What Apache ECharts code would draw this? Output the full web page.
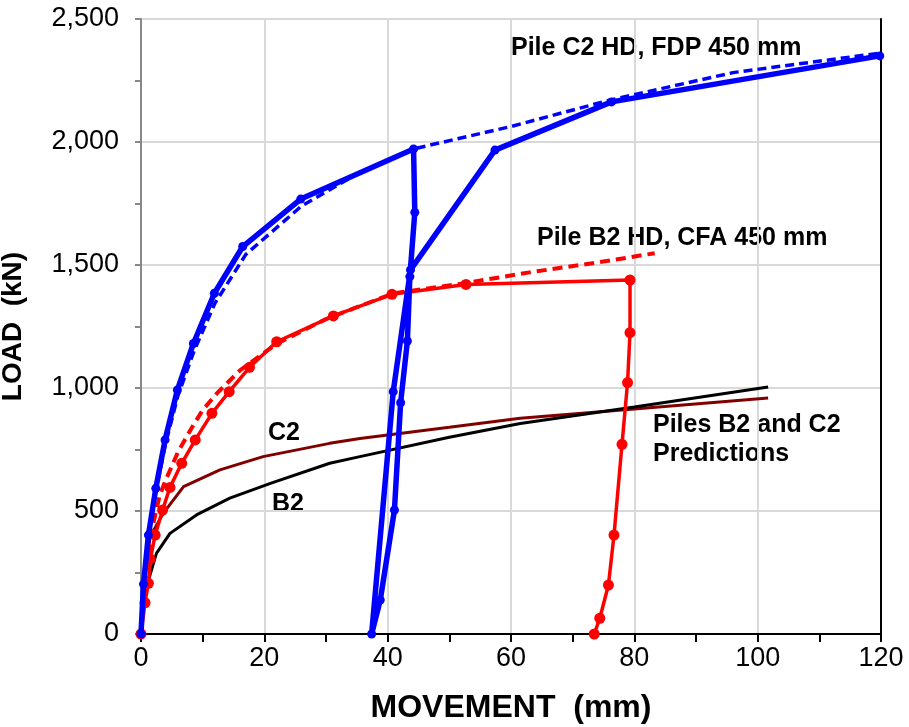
<!DOCTYPE html>
<html>
<head>
<meta charset="utf-8">
<script src="https://cdn.jsdelivr.net/npm/echarts@6/dist/echarts.min.js"></script>
<style>
html,body{margin:0;padding:0;background:#fff;}
#chart{width:909px;height:727px;}
</style>
</head>
<body>
<div id="chart"></div>
<script>
// Pile C2 HD test (loading, unloading, reloading)
const c2TestX = [0, 0.4, 1.2, 2.4, 3.9, 5.9, 8.5, 11.9, 16.5, 25.9, 44.2, 44.4, 43.6, 43.2, 42.1, 41.1, 38.8, 37.4, 40.9, 43.7, 57.4, 76.3, 119.8];
const c2TestY = [0, 203, 402, 592, 789, 992, 1181, 1385, 1575, 1768, 1972, 1714, 1453, 1191, 940, 504, 138, 0, 985, 1480, 1967, 2163, 2350];
// Pile C2 HD dashed curve
const c2FitX = [0, 0.5, 1.2, 2.4, 4, 6, 8.6, 12, 17, 26, 35, 44.2, 60, 76, 96, 120];
const c2FitY = [0, 190, 390, 580, 775, 970, 1150, 1345, 1543, 1739, 1870, 1972, 2063, 2170, 2282, 2362];
// Pile B2 HD test
const b2TestX = [0, 0.65, 1.2, 1.5, 2.3, 3.5, 4.7, 6.6, 8.8, 11.5, 14.3, 17.6, 22.0, 31.2, 40.7, 52.7, 79.3, 79.3, 78.9, 78.0, 76.7, 75.8, 74.4, 73.5];
const b2TestY = [0, 127, 206, 304, 402, 504, 596, 694, 789, 897, 985, 1084, 1188, 1293, 1381, 1421, 1439, 1225, 1022, 771, 402, 199, 64, 0];
// Pile B2 HD dashed curve
const b2FitX = [0, 0.5, 1.2, 2.0, 3.0, 3.9, 6.0, 8.5, 10.0, 12.3, 16.1, 22.0, 30.0, 40.9, 52.7, 63.0, 74.0, 83.3];
const b2FitY = [0, 150, 300, 450, 560, 620, 740, 850, 910, 978, 1073, 1180, 1280, 1385, 1427, 1470, 1510, 1548];
// Predictions
const predB2X = [0, 0.3, 0.9, 2.5, 4.7, 9.0, 14.4, 21.1, 30.6, 35.5, 50, 61.5, 80, 101.7];
const predB2Y = [0, 100, 192, 328, 409, 484, 552, 613, 694, 721, 800, 856, 923, 1004];
const predC2X = [0, 0.5, 1.5, 3.6, 6.9, 12.8, 19.8, 30.6, 35.5, 50, 61.5, 80, 101.7];
const predC2Y = [0, 220, 396, 490, 599, 667, 721, 775, 795, 840, 877, 915, 959];

const xTicks = {min: 0, max: 120, interval: 20};
const yTicks = {min: 0, max: 2500, interval: 500};

function pairs(xs, ys) { return xs.map((x, i) => [x, ys[i]]); }

const chart = echarts.init(document.getElementById('chart'));
const FONT = '"Liberation Sans", Arial, sans-serif';
chart.setOption({
  animation: false,
  backgroundColor: '#fff',
  grid: {left: 141, right: 28, top: 19, bottom: 93, containLabel: false, outerBoundsMode: 'none'},
  xAxis: {
    type: 'value', min: xTicks.min, max: xTicks.max, interval: xTicks.interval,
    name: 'MOVEMENT  (mm)', nameLocation: 'middle', nameGap: 58,
    nameTextStyle: {fontFamily: FONT, fontWeight: 'bold', fontSize: 32, color: '#000'},
    axisLine: {show: true, onZero: false, lineStyle: {color: '#000', width: 2}},
    axisTick: {show: true, inside: false, length: 8, lineStyle: {color: '#000', width: 2}},
    minorTick: {show: true, splitNumber: 2, length: 8, lineStyle: {color: '#000', width: 2}},
    axisLabel: {fontFamily: FONT, fontSize: 27, color: '#000', margin: 11},
    splitLine: {show: true, lineStyle: {color: '#d9d9d9', width: 2}}
  },
  yAxis: [{
    type: 'value', min: yTicks.min, max: yTicks.max, interval: yTicks.interval,
    name: 'LOAD  (kN)', nameLocation: 'middle', nameGap: 114, nameRotate: 90,
    nameTextStyle: {fontFamily: FONT, fontWeight: 'bold', fontSize: 28, color: '#000'},
    axisLine: {show: true, lineStyle: {color: '#888', width: 2}},
    axisTick: {show: true, length: 6, lineStyle: {color: '#888', width: 2}},
    minorTick: {show: true, splitNumber: 2, length: 6, lineStyle: {color: '#888', width: 2}},
    axisLabel: {fontFamily: FONT, fontSize: 27, color: '#000', margin: 22,
      formatter: v => v.toLocaleString('en-US')},
    splitLine: {show: true, lineStyle: {color: '#d9d9d9', width: 2}}
  }, {
    type: 'value', min: yTicks.min, max: yTicks.max, interval: yTicks.interval, position: 'right',
    axisLine: {show: true, lineStyle: {color: '#000', width: 2}},
    axisTick: {show: false}, axisLabel: {show: false}, splitLine: {show: false}
  }],
  series: [
    {type: 'line', name: 'C2 prediction', data: pairs(predC2X, predC2Y), showSymbol: false, symbol: 'none',
     lineStyle: {color: '#800000', width: 3}, z: 2},
    {type: 'line', name: 'B2 prediction', data: pairs(predB2X, predB2Y), showSymbol: false, symbol: 'none',
     lineStyle: {color: '#000', width: 3}, z: 3},
    {type: 'line', name: 'B2 fit', data: pairs(b2FitX, b2FitY), symbol: 'none',
     lineStyle: {color: '#ff0000', width: 4, type: [10, 6]}, z: 4},
    {type: 'line', name: 'B2 test', data: pairs(b2TestX, b2TestY), symbol: 'circle', symbolSize: 11,
     itemStyle: {color: '#ff0000'}, lineStyle: {color: '#ff0000', width: 3.5}, z: 5},
    {type: 'line', name: 'C2 fit', data: pairs(c2FitX, c2FitY), symbol: 'none',
     lineStyle: {color: '#0000ff', width: 3.5, type: [9, 5]}, z: 6},
    {type: 'line', name: 'C2 test', data: pairs(c2TestX, c2TestY), symbol: 'circle', symbolSize: 9,
     itemStyle: {color: '#0000ff'}, lineStyle: {color: '#0000ff', width: 5.5}, z: 7}
  ],
  graphic: [
    {type: 'text', left: 511, top: 36, style: {text: 'Pile C2 HD, FDP 450 mm', font: 'bold 25px ' + FONT, fill: '#000'}},
    {type: 'text', left: 537, top: 226, style: {text: 'Pile B2 HD, CFA 450 mm', font: 'bold 25px ' + FONT, fill: '#000'}},
    {type: 'text', left: 268, top: 421, style: {text: 'C2', font: 'bold 25px ' + FONT, fill: '#000'}},
    {type: 'text', left: 272, top: 492, style: {text: 'B2', font: 'bold 25px ' + FONT, fill: '#000'}},
    {type: 'text', left: 653, top: 411, style: {text: 'Piles B2 and C2\nPredictions', font: 'bold 25px ' + FONT, fill: '#000', lineHeight: 29}}
  ]
});
</script>
</body>
</html>
